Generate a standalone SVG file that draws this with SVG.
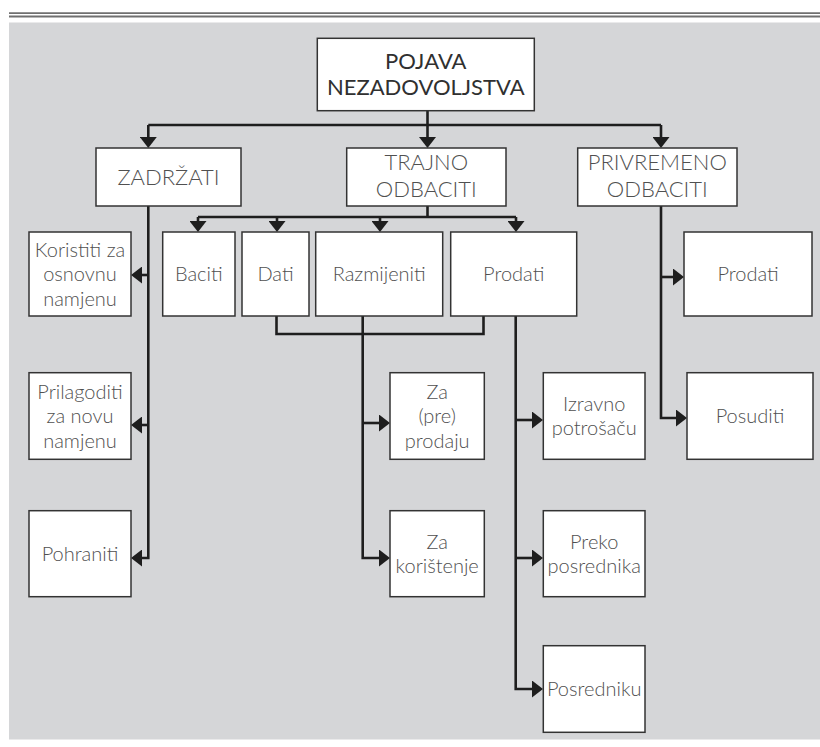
<svg xmlns="http://www.w3.org/2000/svg" width="820" height="747" viewBox="0 0 820 747">
<style>
.box{fill:#ffffff;stroke:#333333;stroke-width:1.5}
.t{font-family:Lato,"Open Sans","Liberation Sans",sans-serif;text-anchor:middle;fill:#505050;font-size:20px;font-weight:300}
.t2{font-size:22px;fill:#505050}
.t1{font-size:22px;fill:#303030;font-weight:400}
.c{fill:none;stroke:#1e1e1e;stroke-width:2.6;stroke-linejoin:miter}
.a{marker-end:url(#ah)}
</style>
<defs>
<marker id="ah" markerUnits="userSpaceOnUse" viewBox="0 0 11 17" refX="3" refY="8.5" markerWidth="11" markerHeight="17" orient="auto">
<path d="M0,0 L11,8.5 L0,17 z" fill="#1e1e1e"/>
</marker>
</defs>
<rect x="0" y="0" width="820" height="747" fill="#ffffff"/>
<line x1="9" y1="13.2" x2="820" y2="13.2" stroke="#707070" stroke-width="1.8"/>
<line x1="9" y1="16.4" x2="820" y2="16.4" stroke="#707070" stroke-width="2"/>
<rect x="9" y="22.5" width="811" height="717" fill="#d5d6d8"/>

<g id="connectors">
<path class="c" d="M427.5,111 V125"/>
<path class="c" d="M148.3,125 H661"/>
<path class="c a" d="M148.3,125 V140"/>
<path class="c a" d="M427.5,125 V140"/>
<path class="c a" d="M661,125 V140"/>
<!-- ZADRZATI -->
<path class="c a" d="M148.3,206 V558 H139"/>
<path class="c a" d="M148.3,275 H139"/>
<path class="c a" d="M148.3,425 H139"/>
<!-- TRAJNO -->
<path class="c" d="M427.5,206 V217"/>
<path class="c" d="M198,217 H516"/>
<path class="c a" d="M198,217 V224"/>
<path class="c a" d="M277,217 V224"/>
<path class="c a" d="M380,217 V224"/>
<path class="c a" d="M516,217 V224"/>
<path class="c" d="M276.5,316 V334 H483.5 V316"/>
<path class="c a" d="M362.7,316 V558 H382"/>
<path class="c a" d="M362.7,423 H382"/>
<path class="c a" d="M515.7,316 V689 H535"/>
<path class="c a" d="M515.7,420 H535"/>
<path class="c a" d="M515.7,558 H535"/>
<!-- PRIVREMENO -->
<path class="c a" d="M661,206 V418 H679"/>
<path class="c a" d="M661,277 H676"/>
</g>

<g id="n-pojava">
<rect class="box" x="317.3" y="38.3" width="217" height="72.4"/>
<text class="t t1" x="425.8" y="69.2">POJAVA</text>
<text class="t t1" x="425.8" y="95.2">NEZADOVOLJSTVA</text>
</g>
<g id="n-zadrzati">
<rect class="box" x="96" y="148" width="145" height="58"/>
<text class="t t2" x="168.5" y="184.7">ZADRŽATI</text>
</g>
<g id="n-trajno">
<rect class="box" x="346.7" y="148" width="159.3" height="58"/>
<text class="t t2" x="426.3" y="170.2">TRAJNO</text>
<text class="t t2" x="426.3" y="197.2">ODBACITI</text>
</g>
<g id="n-privremeno">
<rect class="box" x="577.7" y="148" width="159.3" height="58"/>
<text class="t t2" x="657.3" y="170.2">PRIVREMENO</text>
<text class="t t2" x="657.3" y="197.2">ODBACITI</text>
</g>

<g id="n-koristiti">
<rect class="box" x="29" y="232" width="102" height="84"/>
<text class="t" x="80" y="256.5">Koristiti za</text>
<text class="t" x="80" y="281">osnovnu</text>
<text class="t" x="80" y="305.5">namjenu</text>
</g>
<g id="n-prilagoditi">
<rect class="box" x="29" y="372.7" width="102" height="86.6"/>
<text class="t" x="80" y="398.5">Prilagoditi</text>
<text class="t" x="80" y="423">za novu</text>
<text class="t" x="80" y="447.5">namjenu</text>
</g>
<g id="n-pohraniti">
<rect class="box" x="29" y="510.7" width="102" height="86"/>
<text class="t" x="80" y="560.7">Pohraniti</text>
</g>

<g id="n-baciti">
<rect class="box" x="162.7" y="232" width="72.3" height="84"/>
<text class="t" x="198.8" y="281">Baciti</text>
</g>
<g id="n-dati">
<rect class="box" x="242" y="232" width="67" height="84"/>
<text class="t" x="275.5" y="281">Dati</text>
</g>
<g id="n-razmijeniti">
<rect class="box" x="315.7" y="232" width="127" height="84"/>
<text class="t" x="379.2" y="281">Razmijeniti</text>
</g>
<g id="n-prodati-t">
<rect class="box" x="450.7" y="232" width="126" height="84"/>
<text class="t" x="513.7" y="281">Prodati</text>
</g>
<g id="n-prodati-p">
<rect class="box" x="684" y="232" width="128" height="84"/>
<text class="t" x="748" y="281">Prodati</text>
</g>

<g id="n-za-preprodaju">
<rect class="box" x="390" y="372.7" width="94.3" height="86.6"/>
<text class="t" x="437.2" y="398.5">Za</text>
<text class="t" x="437.2" y="423">(pre)</text>
<text class="t" x="437.2" y="447.5">prodaju</text>
</g>
<g id="n-za-koristenje">
<rect class="box" x="390" y="510.7" width="94.3" height="86"/>
<text class="t" x="437.2" y="548.5">Za</text>
<text class="t" x="437.2" y="573">korištenje</text>
</g>
<g id="n-izravno">
<rect class="box" x="543.3" y="372.7" width="101.7" height="86.6"/>
<text class="t" x="594.2" y="410.8">Izravno</text>
<text class="t" x="594.2" y="435.3">potrošaču</text>
</g>
<g id="n-preko">
<rect class="box" x="543.3" y="510.7" width="101.7" height="86"/>
<text class="t" x="594.2" y="548.5">Preko</text>
<text class="t" x="594.2" y="573">posrednika</text>
</g>
<g id="n-posredniku">
<rect class="box" x="543.3" y="645.7" width="101.7" height="86.6"/>
<text class="t" x="594.2" y="696">Posredniku</text>
</g>
<g id="n-posuditi">
<rect class="box" x="687" y="372.7" width="126" height="86.6"/>
<text class="t" x="750" y="423">Posuditi</text>
</g>
</svg>
